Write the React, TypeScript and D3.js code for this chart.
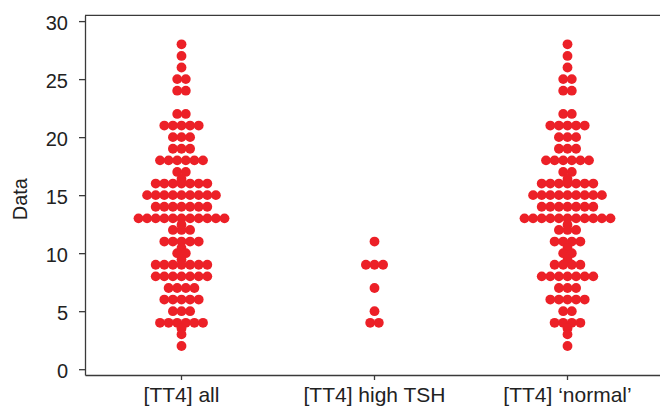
import React, { useEffect, useRef } from 'react';
import { select, scaleLinear, scaleBand, axisLeft, axisBottom } from 'd3';

const categories = ['[TT4] all', '[TT4] high TSH', '[TT4] \u2018normal\u2019'];

// value levels and the number of dots at each level
const allLevels = [28, 27, 26, 25, 24, 22, 21, 20, 19, 18, 17, 16.4, 16, 15, 14, 13, 12.45, 12, 11, 10.45, 10, 9.45, 9, 8, 7, 6, 5, 4, 3.5, 3, 2];
const allCounts = [1, 1, 1, 2, 2, 2, 5, 3, 3, 6, 2, 1, 7, 9, 7, 11, 1, 3, 5, 1, 2, 1, 7, 7, 4, 5, 3, 6, 1, 1, 1];

const tshLevels = [11, 9, 7, 5, 4];
const tshCounts = [1, 3, 1, 1, 2];

const normalLevels = [28, 27, 26, 25, 24, 22, 21, 20, 19, 18, 17, 16.4, 16, 15, 14, 13, 12.45, 12, 11, 10.45, 10, 9.45, 9, 8, 7, 6, 5, 4, 3.5, 3, 2];
const normalCounts = [1, 1, 1, 2, 2, 2, 5, 3, 3, 6, 2, 1, 7, 9, 7, 11, 1, 3, 4, 1, 2, 1, 4, 7, 3, 5, 2, 4, 1, 1, 1];

const yTicks = [0, 5, 10, 15, 20, 25, 30];

const series = [
  { name: categories[0], levels: allLevels, counts: allCounts },
  { name: categories[1], levels: tshLevels, counts: tshCounts },
  { name: categories[2], levels: normalLevels, counts: normalCounts },
];

const W = 660;
const H = 407;
const ink = '#3a3a3a';
const red = '#ec2027';
const font = '"Liberation Sans", Arial, Helvetica, sans-serif';

const App: React.FC = () => {
  const svgRef = useRef<SVGSVGElement>(null);

  useEffect(() => {
    if (!svgRef.current) return;
    const svg = select(svgRef.current);
    svg.selectAll('*').remove();

    const left = 85;
    const top = 15.3;
    const bottom = 375;

    const y = scaleLinear().domain([-0.5, 30.5]).range([bottom, top]);
    const x = scaleBand<string>().domain(categories).range([left, 664]);

    const dotR = 4.9;
    const step = 8.6;

    // frame line along the top
    svg.append('line')
      .attr('x1', left).attr('x2', W).attr('y1', top).attr('y2', top)
      .attr('stroke', ink).attr('stroke-width', 1.3);

    const yAxis = svg.append('g')
      .attr('transform', `translate(${left},0)`)
      .call(axisLeft(y).tickValues(yTicks).tickSize(6).tickSizeOuter(0).tickPadding(11));
    yAxis.select('.domain').attr('stroke', ink).attr('stroke-width', 1.3);
    yAxis.selectAll('.tick line').attr('stroke', ink).attr('stroke-width', 1.3);
    yAxis.selectAll('.tick text')
      .attr('fill', '#222')
      .attr('dy', '0.4em')
      .style('font-family', font)
      .style('font-size', '20px');

    const xAxis = svg.append('g')
      .attr('transform', `translate(0,${bottom})`)
      .call(axisBottom(x).tickSize(5).tickSizeOuter(0).tickPadding(7));
    xAxis.select('.domain').attr('stroke', ink).attr('stroke-width', 1.3);
    xAxis.selectAll('.tick line').attr('stroke', ink).attr('stroke-width', 1.3);
    xAxis.selectAll('.tick text')
      .attr('fill', '#222')
      .style('font-family', font)
      .style('font-size', '21px');

    svg.append('text')
      .attr('transform', `translate(27,${(top + bottom) / 2 + 4}) rotate(-90)`)
      .attr('text-anchor', 'middle')
      .attr('fill', '#222')
      .style('font-family', font)
      .style('font-size', '20px')
      .text('Data');

    const dots: { cx: number; cy: number }[] = [];
    series.forEach(s => {
      const cx0 = (x(s.name) ?? 0) + x.bandwidth() / 2;
      s.levels.forEach((v, li) => {
        const n = s.counts[li];
        for (let i = 0; i < n; i++) {
          dots.push({ cx: cx0 + (i - (n - 1) / 2) * step, cy: y(v) });
        }
      });
    });

    svg.append('g')
      .selectAll('circle')
      .data(dots)
      .join('circle')
      .attr('cx', d => d.cx)
      .attr('cy', d => d.cy)
      .attr('r', dotR)
      .attr('fill', red);
  }, []);

  return (
    <svg
      ref={svgRef}
      width={W}
      height={H}
      style={{ position: 'absolute', left: 0, top: 0, background: '#fff' }}
    />
  );
};

export default App;
